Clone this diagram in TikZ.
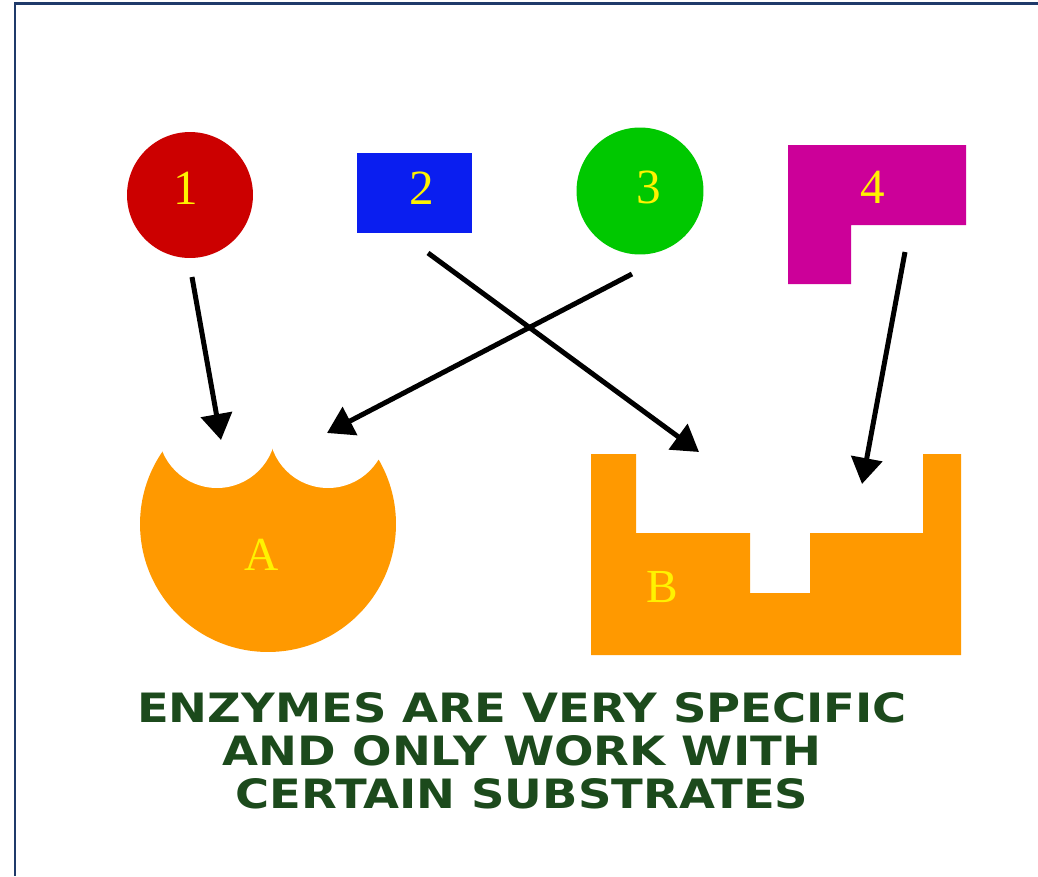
\documentclass[tikz,border=0pt]{standalone}
\usepackage{fontspec}
\setmainfont{Liberation Serif}
\newfontfamily\capsfont[FakeStretch=1.15]{DejaVu Sans}
\usepackage{xcolor}
\usetikzlibrary{arrows.meta,positioning}

\definecolor{frameblue}{HTML}{1F3A6A}
\definecolor{subred}{HTML}{CC0000}
\definecolor{subblue}{HTML}{0A1EF0}
\definecolor{subgreen}{HTML}{00C800}
\definecolor{submag}{HTML}{CC0099}
\definecolor{enzorange}{HTML}{FF9900}
\definecolor{txtgreen}{HTML}{1C4A1C}

\begin{document}
\begin{tikzpicture}[
  x=0.02cm,
  y=-0.02cm,
  lbl/.style={font=\fontsize{28}{30}\selectfont,text=yellow,inner sep=0pt},
  sub/.style={draw=none,inner sep=0pt},
  link/.style={-{Triangle[length=0.52cm,width=0.62cm]},line width=0.1cm},
  enz/.style={fill=enzorange}
]
  \useasboundingbox (0,0) rectangle (1038,876);
  \fill[white] (0,0) rectangle (1038,876);
  \draw[frameblue,line width=0.06cm] (1038,3) -- (15,3) -- (15,876);

  \node[sub,circle,fill=subred,minimum size=2.52cm] (s1) at (190,195) {};
  \node[sub,fill=subblue,minimum width=2.3cm,minimum height=1.6cm] (s2) at (414.5,193) {};
  \node[sub,circle,fill=subgreen,minimum size=2.54cm] (s3) at (640,191) {};
  \fill[submag] (788,145) -- (966,145) -- (966,225) -- (851,225) -- (851,284) -- (788,284) -- cycle;
  \node[lbl] (n1) at (186,188) {1};
  \node[lbl] (n2) at (422,188) {2};
  \node[lbl] (n3) at (649,187) {3};
  \node[lbl] (n4) at (873,187) {4};

  \fill[enz] (268,524) circle[radius=2.56cm];
  \fill[white] (217,429) circle[radius=1.18cm];
  \fill[white] (328,429) circle[radius=1.18cm];
  \fill[white] (150,380) -- (162,450) -- (272,446) -- (382,460) -- (400,380) -- cycle;
  \fill[enz] (591,454) -- (636,454) -- (636,533) -- (750,533) -- (750,593) -- (810,593)
    -- (810,533) -- (923,533) -- (923,454) -- (961,454) -- (961,655) -- (591,655) -- cycle;
  \node[lbl,font=\fontsize{27}{29}\selectfont] (ea) at (262,555) {A};
  \node[lbl,font=\fontsize{27}{29}\selectfont] (eb) at (662,587) {B};

  \coordinate (t1) at (192,277);
  \coordinate (h1) at (221,440);
  \coordinate (t2) at (428,253);
  \coordinate (h2) at (699,452);
  \coordinate (t3) at (632,274);
  \coordinate (h3) at (327,433);
  \coordinate (t4) at (905,252);
  \coordinate (h4) at (862,484);
  \draw[link] (t1) -- (h1);
  \draw[link] (t2) -- (h2);
  \draw[link] (t3) -- (h3);
  \draw[link] (t4) -- (h4);

  \node[font=\capsfont\bfseries\fontsize{23}{24.5}\selectfont,text=txtgreen,align=center,inner sep=0pt] (msg) at (522,751)
    {ENZYMES ARE VERY SPECIFIC\\AND ONLY WORK WITH\\CERTAIN SUBSTRATES};
\end{tikzpicture}
\end{document}
